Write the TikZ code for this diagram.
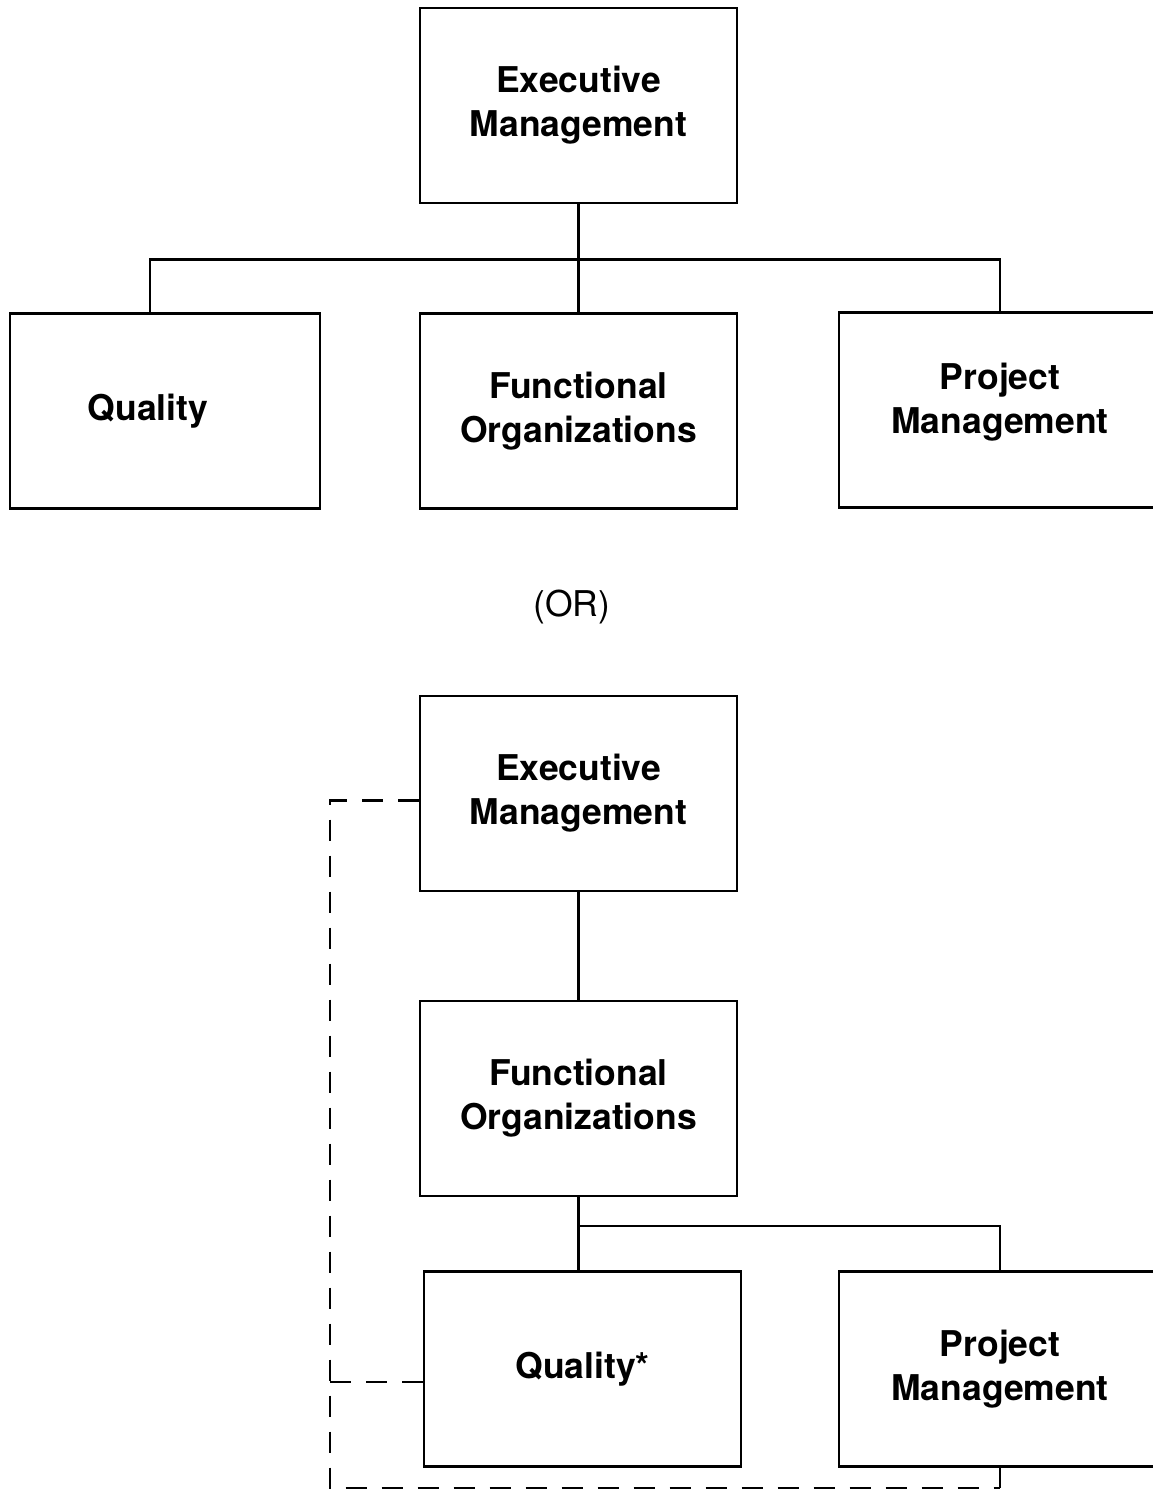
\documentclass[tikz,border=0pt]{standalone}
\usepackage{fontspec}
\setmainfont{TeX Gyre Heros}
\usetikzlibrary{positioning}

\begin{document}
\begin{tikzpicture}
    [x=1pt, y=-1pt, line width=2.2pt,
    every node/.style={font=\fontsize{35.5}{44}\selectfont\bfseries, align=center},
    unit/.style={draw, minimum width=317pt, minimum height=195pt, inner sep=0pt},
    dashes/.style={draw, dash pattern=on 21pt off 15pt}]
    \useasboundingbox (0,0) rectangle (1153,1489);
    % first chart
    \node[unit] (exec) at (578.5,105.5) {Executive\\Management};
    \node[unit, minimum width=310pt] (qual) at (165,411) {\kern-34pt Quality};
    \node[unit] (func) at (578.5,411) {Functional\\Organizations};
    \node[unit, minimum width=322pt] (pm) at (1000,410) {Project\\Management\\[-20pt]};
    \draw (exec) -- (func);
    \draw (qual.north) ++(-15,0) -- ++(0,-53) -| (pm.north);
    \node[font=\fontsize{35.5}{44}\selectfont] (or) at (572,607) {(OR)};
    % second chart
    \node[unit] (exec2) at (578.5,793.5) {Executive\\Management};
    \node[unit] (func2) at (578.5,1098.5) {Functional\\Organizations};
    \node[unit] (qual2) at (582.5,1369) {Quality*};
    \node[unit, minimum width=322pt] (pm2) at (1000,1369) {Project\\Management};
    \draw (exec2) -- (func2);
    \draw (func2.south) -- (func2.south |- qual2.north);
    \draw (func2.south) -- ++(0,29) -| (pm2.north);
    \coordinate (rail) at (330,1488);
    \draw[dashes] ([yshift=-7pt]exec2.west) -| (rail) -- (rail -| pm2.south);
    \draw[dashes] ([yshift=-13pt]qual2.west) -- +(-94,0);
    \draw (pm2.south) -- (pm2.south |- rail);
\end{tikzpicture}
\end{document}
